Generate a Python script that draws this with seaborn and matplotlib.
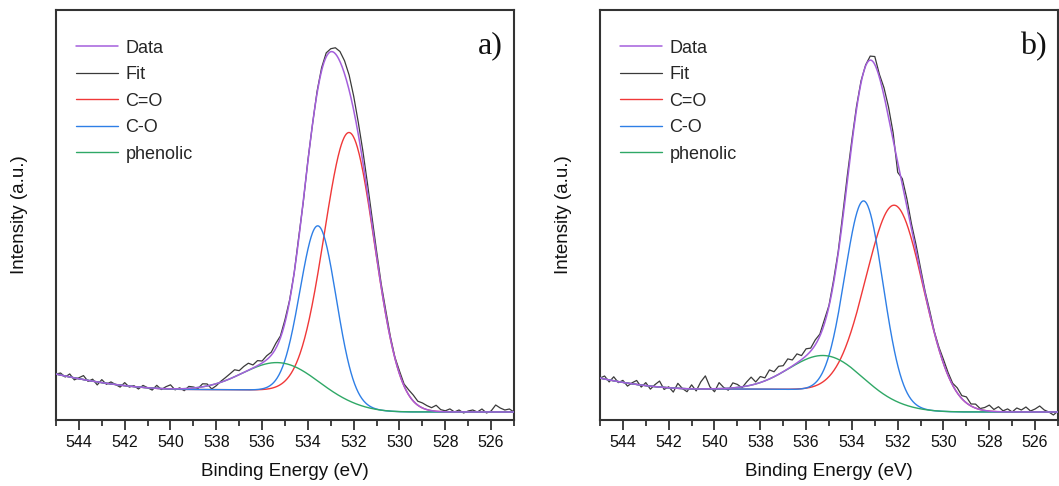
import numpy as np
import pandas as pd
import matplotlib
matplotlib.use("Agg")
import matplotlib.pyplot as plt
from matplotlib.ticker import MultipleLocator
import seaborn as sns

# ---------------- data ----------------
# energy axis (eV), measured points every 0.2 eV from 545 down to 525
e_start, e_stop, e_step = 545.0, 525.0, 0.2

# fitted components: centre (eV), height above background, FWHM (eV)
comp_names = ["C=O", "C-O", "phenolic"]
a_centers = [532.18, 533.55, 535.30]
a_heights = [272.0, 170.0, 28.0]
a_fwhm = [2.58, 1.85, 3.60]
b_centers = [532.12, 533.47, 535.20]
b_heights = [200.0, 196.0, 35.0]
b_fwhm = [2.95, 1.95, 3.60]

# background: low-BE level, high-BE plateau, extra rise at high BE (onset, curvature)
a_bg = [0.0, 22.5, 539.0, 0.43]
b_bg = [0.0, 23.0, 540.5, 0.54]

# measured spectrum minus fit (read point by point, 545 -> 525 eV)
a_resid = [0, 2, -1, 3, -2, 1, 4, -1, 2, -3, 3,
           -1, 2, 0, -2, 3, -1, 1, -2, 2, 0,
           -2, 3, -1, 2, 4, -1, 1, -2, 2, 1,
           -1, 3, 2, -4, -2, 1, 3, 5, 7, 4,
           6, 7, 3, 5, 2, 4, 3, 5, 2, 3,
           1, 0, 2, -1, 1, 0, 2, 3, 4, 3,
           6, 10, 13, 15, 14, 12, 11, 9, 7, 5,
           3, 4, 2, 1, 3, 2, 5, 6, 4, 5,
           4, 3, 6, 2, 1, 3, 0, 2, -1, 1,
           2, 0, 3, -1, 1, 7, 4, 2, 3, 0]
b_resid = [0, 3, -2, 4, -1, 2, -3, 1, 4, -2, 3,
           -3, 2, 6, -2, 1, -4, 5, 0, -3, 4,
           -2, 7, 13, 2, -3, 6, 1, -2, 5, 3,
           -1, 4, 8, 2, 6, 3, 9, 5, 8, 6,
           10, 6, 9, 4, 7, 3, 5, 2, 4, 1,
           3, 2, 5, 6, 4, 3, 2, 1, 4, 8,
           3, 8, 10, 7, -10, 6, 8, 5, 6, 4,
           2, 3, 1, 2, 4, 3, 2, 5, 3, 6,
           2, 4, 1, 3, 6, 2, 5, 1, 3, 0,
           4, 2, 5, 1, 3, 6, 2, 0, -3, 1]

x_major = [544, 542, 540, 538, 536, 534, 532, 530, 528, 526]
panel_tags = ["a)", "b)"]
legend_labels = ["Data", "Fit", "C=O", "C-O", "phenolic"]

# ---------------- model ----------------
E = np.linspace(e_stop, e_start, 1001)  # ascending, 0.02 eV


def gauss(x, c, h, w):
    return h * np.exp(-4 * np.log(2) * (x - c) ** 2 / w ** 2)


def build(centers, heights, fwhm, bg, resid):
    peaks = [gauss(E, c, h, w) for c, h, w in zip(centers, heights, fwhm)]
    total = np.sum(peaks, axis=0)
    cum = np.cumsum(total)
    shirley = bg[0] + (bg[1] - bg[0]) * cum / cum[-1]
    rise = bg[3] * np.clip(E - bg[2], 0, None) ** 2
    back = shirley + rise
    comps = [p + back for p in peaks]
    fit = total + back
    Ed = E[::10]
    data = fit[::10] + np.array(resid[::-1], dtype=float)
    return comps, fit, Ed, data


sns.set_theme(style="white")
plt.rcParams["font.family"] = ["Liberation Sans", "DejaVu Sans"]

W, H = 1059, 486
fig = plt.figure(figsize=(W / 100, H / 100), dpi=100)
lefts = [56, 600]
axes = [fig.add_axes([l / W, (H - 420) / H, 458 / W, 410 / H]) for l in lefts]

col_data = "#3a3a3a"
col_fit = "#a45fdc"
comp_cols = ["#f03838", "#2e7fe6", "#2fa866"]

params = [(a_centers, a_heights, a_fwhm, a_bg, a_resid),
          (b_centers, b_heights, b_fwhm, b_bg, b_resid)]

for ax, p, tag in zip(axes, params, panel_tags):
    comps, fit, Ed, data = build(*p)
    sns.lineplot(x=Ed, y=data, ax=ax, color=col_data, lw=0.9, zorder=2,
                 estimator=None, sort=False)
    for c, col in zip(comps, comp_cols):
        sns.lineplot(x=E, y=c, ax=ax, color=col, lw=1.0, zorder=3,
                     estimator=None, sort=False)
    sns.lineplot(x=E, y=fit, ax=ax, color=col_fit, lw=1.1, zorder=4,
                 estimator=None, sort=False)
    lines = ax.get_lines()
    data_line, red_l, blue_l, green_l, fit_line = lines[:5]
    ax.legend([fit_line, data_line, red_l, blue_l, green_l], legend_labels,
              loc="upper left", bbox_to_anchor=(0.044, 0.928),
              frameon=False, fontsize=13, handlelength=2.33,
              handletextpad=0.4, labelspacing=0.53, borderpad=0,
              borderaxespad=0)

    ax.set_xlim(e_start, e_stop)
    ax.set_ylim(-8, 402)
    ax.set_xticks(x_major)
    ax.xaxis.set_minor_locator(MultipleLocator(1))
    ax.set_yticks([])
    ax.tick_params(axis="x", which="major", direction="out", length=7,
                   width=1.3, color="#333333", labelsize=11.5, pad=4,
                   bottom=True, labelcolor="#111111")
    ax.tick_params(axis="x", which="minor", direction="out", length=4,
                   width=1.3, color="#333333", bottom=True)
    for s in ax.spines.values():
        s.set_visible(True)
        s.set_color("#333333")
        s.set_linewidth(1.5)
    ax.set_facecolor("white")
    ax.set_xlabel("Binding Energy (eV)", fontsize=13.5, color="#111111")
    ax.set_ylabel("Intensity (a.u.)", fontsize=13.5, color="#111111")
    ax.xaxis.set_label_coords(0.5, -0.105)
    ax.yaxis.set_label_coords(-0.061, 0.5)
    ax.text(0.976, 0.912, tag, transform=ax.transAxes, ha="right",
            va="center", fontsize=23, family="Liberation Serif",
            color="#111111")

fig.savefig("out.png", dpi=100, facecolor="white")
